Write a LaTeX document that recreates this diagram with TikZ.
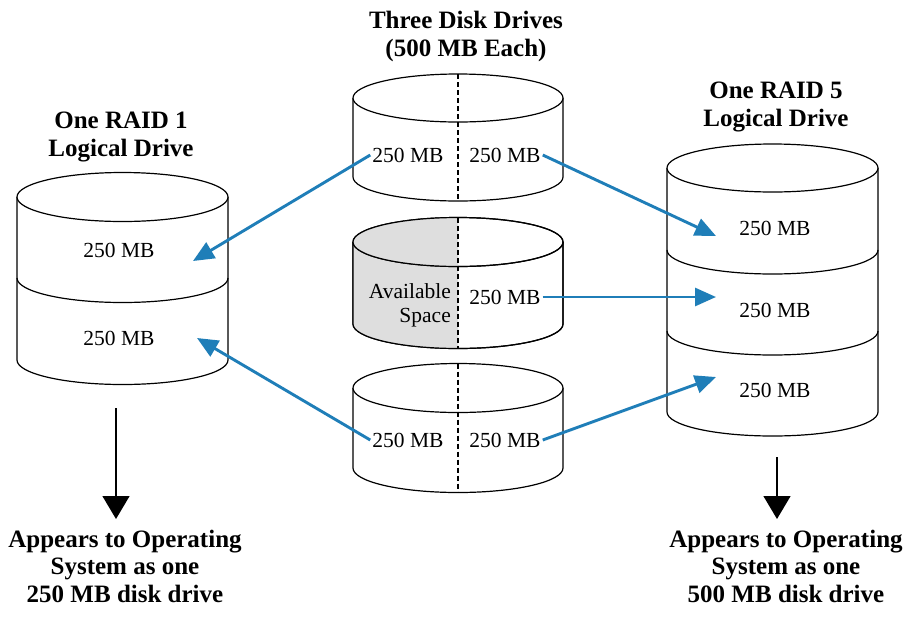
\documentclass[tikz,border=0pt]{standalone}
\usepackage{fontspec}
\setmainfont{Liberation Serif}
\usetikzlibrary{arrows.meta}
\definecolor{rblue}{RGB}{31,126,184}
\definecolor{dgray}{RGB}{222,222,222}
\tikzset{
  disk/.style={draw=black, line width=1.2pt},
  lbl/.style={inner sep=2pt, font=\fontsize{21.5}{24}\selectfont},
  ttl/.style={inner sep=0pt, align=center, font=\fontsize{25}{27.5}\selectfont\bfseries},
  barrow/.style={draw=rblue, line width=2.9pt, -{Triangle[length=21pt,width=18pt]}},
  karrow/.style={draw=black, line width=1.3pt, -{Triangle[length=23pt,width=27pt]}},
}
% cx, ytop, ybot, rx, ry
\newcommand\drumbody[5]{%
  \filldraw[disk, fill=white] (#1-#4,#2) -- (#1-#4,#3) arc[start angle=180,end angle=360,x radius=#4pt,y radius=#5pt] -- (#1+#4,#2);}
\newcommand\drumtop[5]{%
  \filldraw[disk, fill=white] (#1,#2) ellipse [x radius=#4pt, y radius=#5pt];}
\newcommand\drumdiv[4]{% cx, y, rx, ry
  \draw[disk] (#1-#3,#2) arc[start angle=180,end angle=360,x radius=#3pt,y radius=#4pt];}
\begin{document}
\begin{tikzpicture}[x=1pt,y=-1pt]
\useasboundingbox (0,0) rectangle (904,619);
% ---------- left RAID 1 drive ----------
\drumbody{122.5}{197}{360}{105.5}{24.5}
\drumdiv{122.5}{278}{105.5}{24.5}
\drumtop{122.5}{197}{360}{105.5}{24.5}
% ---------- right RAID 5 drive ----------
\drumbody{772.5}{168}{412}{105.5}{24}
\drumdiv{772.5}{250}{105.5}{24}
\drumdiv{772.5}{331}{105.5}{24}
\drumtop{772.5}{168}{412}{105.5}{24}
% ---------- middle disks ----------
\drumbody{458}{98}{177}{105}{24}
\drumtop{458}{98}{177}{105}{24}
\draw[disk, dash pattern=on 5pt off 3pt] (458,74) -- (458,201);
% gray disk
\drumbody{458}{242}{324}{105}{24.5}
\fill[dgray] (458-105,242) -- (458-105,324) arc[start angle=180,end angle=270,x radius=105pt,y radius=24.5pt] -- (458,242) -- cycle;
\draw[disk] (458-105,242) -- (458-105,324) arc[start angle=180,end angle=360,x radius=105pt,y radius=24.5pt] -- (458+105,242);
\drumtop{458}{242}{324}{105}{24.5}
\fill[dgray] (458,242-24.5) arc[start angle=90,end angle=270,x radius=105pt,y radius=24.5pt] -- cycle;
\draw[disk] (458,242) ellipse [x radius=105pt, y radius=24.5pt];
\draw[disk, dash pattern=on 5pt off 3pt] (458,217.5) -- (458,348.5);
% bottom disk
\drumbody{458}{388}{468}{105}{24.5}
\drumtop{458}{388}{468}{105}{24.5}
\draw[disk, dash pattern=on 5pt off 3pt] (458,363.5) -- (458,492.5);
% ---------- titles ----------
\node[ttl] (tmid) at (466,36.5) {Three Disk Drives\\(500 MB Each)};
\node[ttl] (tleft) at (121,137) {One RAID 1\\Logical Drive};
\node[ttl] (tright) at (776,107) {One RAID 5\\Logical Drive};
\node[ttl] (bl) at (125,566) {Appears to Operating\\System as one\\250 MB disk drive};
\node[ttl] (br) at (786,566) {Appears to Operating\\System as one\\500 MB disk drive};
% ---------- labels ----------
\node[lbl] (L1) at (119,250) {250 MB};
\node[lbl] (L2) at (119,338) {250 MB};
\node[lbl] (R1) at (775,228) {250 MB};
\node[lbl] (R2) at (775,310) {250 MB};
\node[lbl] (R3) at (775,390) {250 MB};
\node[lbl] (A1) at (408,155) {250 MB};
\node[lbl] (B1) at (505,155) {250 MB};
\node[lbl, align=right, anchor=east, font=\fontsize{21.5}{24}\selectfont] (A2) at (453,305) {Available\\Space};
\node[lbl] (B2) at (505,297) {250 MB};
\node[lbl] (A3) at (408,440) {250 MB};
\node[lbl] (B3) at (505,440) {250 MB};
% ---------- arrow ends ----------
\coordinate (eL1) at (193,261);
\coordinate (eL2) at (197,338);
\coordinate (eR1) at (716,236);
\coordinate (eR2) at (716,297);
\coordinate (eR3) at (716,377);
\draw[barrow] (A1.west) -- (eL1);
\draw[barrow] (A3.west) -- (eL2);
\draw[barrow] (B1.east) -- (eR1);
\draw[barrow] (B2.east) -- (eR2);
\draw[barrow] (B3.east) -- (eR3);
% ---------- black arrows ----------
\coordinate (kL) at (116,408);
\coordinate (kR) at (777,457);
\draw[karrow] (kL) -- (116,519);
\draw[karrow] (kR) -- (777,519);
\end{tikzpicture}
\end{document}
